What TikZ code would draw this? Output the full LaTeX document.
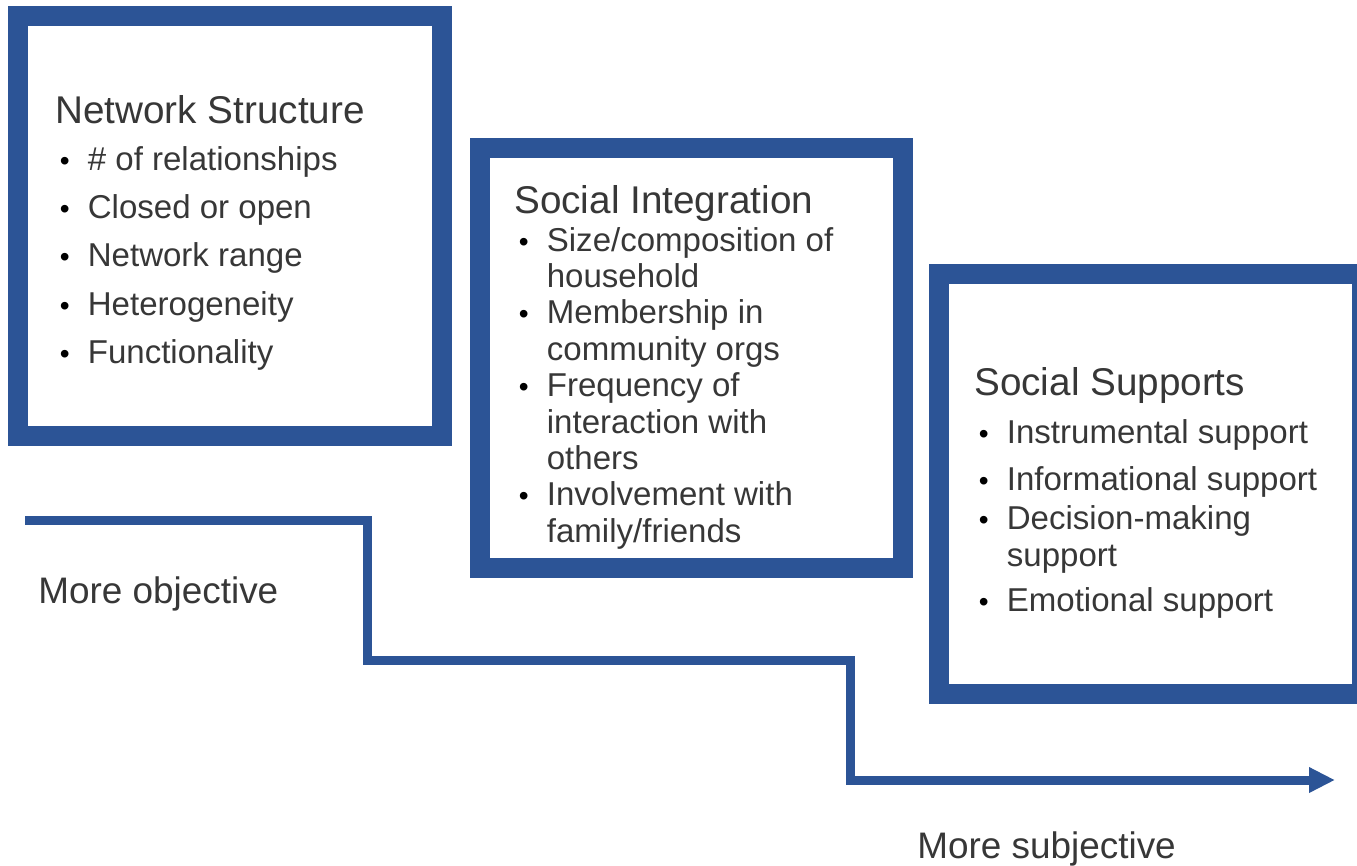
\documentclass[tikz,border=0pt]{standalone}
\usepackage{fontspec}
\setmainfont{Liberation Sans}
\usetikzlibrary{arrows.meta}

\definecolor{boxblue}{RGB}{44,84,150}
\definecolor{textgrey}{RGB}{55,55,55}
\newcommand{\titlefont}{\fontsize{22pt}{20.7pt}\selectfont}
\newcommand{\itemfont}{\fontsize{18.8pt}{20.7pt}\selectfont}
\newcommand{\bul}{\makebox[18.5pt][l]{\hspace{2.6pt}\textcolor{black}{\fontsize{16pt}{16pt}\selectfont\textbullet}}}
\newcommand{\cont}{\hspace{18.5pt}}

\begin{document}
\begin{tikzpicture}[x=0.2mm, y=-0.2mm, >={Triangle[length=5.2mm, width=4.8mm]},
    panel/.style={draw=boxblue, line width=4mm, minimum width=84.6mm, minimum height=84mm, inner sep=0pt},
    paneltext/.style={anchor=north west, align=left, inner sep=0pt, text=textgrey, font=\itemfont},
    axislabel/.style={anchor=base west, inner sep=0pt, text=textgrey, font=\fontsize{21pt}{25pt}\selectfont}]
    \useasboundingbox (0,0) rectangle (1357,865);

    % the three panels
    \node [panel] (netbox) at (230,226) {};
    \node [panel] (intbox) at (691,357.5) {};
    \node [panel] (suppbox) at (1150,484) {};

    \node [paneltext] (nettext) at (55,95) {{\titlefont Network Structure}\\[5.9pt]
        \bul \# of relationships\\[6.8pt]
        \bul Closed or open\\[6.8pt]
        \bul Network range\\[6.8pt]
        \bul Heterogeneity\\[6.8pt]
        \bul Functionality};
    \node [paneltext] (inttext) at (514,185) {{\titlefont Social Integration}\\[0.8pt]
        \bul Size/composition of\\
        \cont household\\
        \bul Membership in\\
        \cont community orgs\\
        \bul Frequency of\\
        \cont interaction with\\
        \cont others\\
        \bul Involvement with\\
        \cont family/friends};
    \node [paneltext] (supptext) at (974,367) {{\titlefont Social Supports}\\[6.5pt]
        \bul Instrumental support\\[6.5pt]
        \bul Informational support\\[1.4pt]
        \bul Decision-making\\
        \cont support\\[4.8pt]
        \bul Emotional support};

    % staircase axis
    \coordinate (objstart) at (25,520);
    \coordinate (subjend) at (1335,780);
    \draw [->, boxblue, line width=1.8mm] (objstart) -| (367,660) -| (850,780) -- (subjend);
    \node [axislabel] (objlabel) at (38,603) {More objective};
    \node [axislabel] (subjlabel) at (917,858) {More subjective};
\end{tikzpicture}
\end{document}
